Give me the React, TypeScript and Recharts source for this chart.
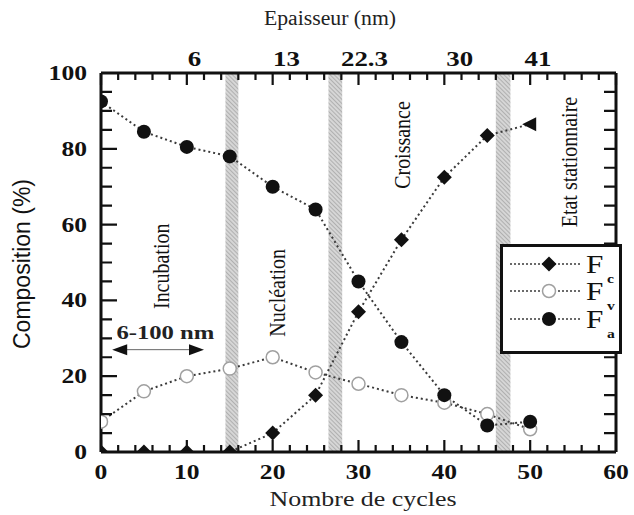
import { ComposedChart, Line, XAxis, YAxis, ReferenceArea, ReferenceLine } from 'recharts'

// ── Données ─────────────────────────────────────────────
const cycles = [0, 5, 10, 15, 20, 25, 30, 35, 40, 45, 50]
const fcValues = [0, 0, 0, 0, 5, 15, 37, 56, 72.5, 83.5, 86.5]
const fvValues = [8, 16, 20, 22, 25, 21, 18, 15, 13, 10, 6]
const faValues = [92.5, 84.5, 80.5, 78, 70, 64, 45, 29, 15, 7, 8]

const seriesSubs = ['c', 'v', 'a']

const xDomain = [0, 60]
const yDomain = [0, 100]
const xTicks = [0, 2, 4, 6, 8, 10, 12, 14, 16, 18, 20, 22, 24, 26, 28, 30, 32, 34, 36, 38, 40, 42, 44, 46, 48, 50, 52, 54, 56, 58, 60]
const xLabels = [0, 10, 20, 30, 40, 50, 60]
const yTicks = [0, 5, 10, 15, 20, 25, 30, 35, 40, 45, 50, 55, 60, 65, 70, 75, 80, 85, 90, 95, 100]
const yLabels = [0, 20, 40, 60, 80, 100]
const topTickLabels = ['6', '13', '22.3', '30', '41']

// zones hachurées (en cycles)
const bands = [
  [14.5, 16],
  [26.5, 28.1],
  [46, 47.7],
]

const phaseNames = ['Incubation', 'Nucléation', 'Croissance', 'Etat stationnaire']

const rows = cycles.map((x, i) => ({ x, fc: fcValues[i], fv: fvValues[i], fa: faValues[i] }))

// ── Mise en page ────────────────────────────────────────
const W = 634
const H = 515
const MARGIN = { top: 33, right: 16, bottom: 23, left: 41 }
const X_AXIS_H = 40
const Y_AXIS_W = 60
const YR_AXIS_W = 2
const PLOT = {
  left: MARGIN.left + Y_AXIS_W,
  right: W - MARGIN.right - YR_AXIS_W,
  top: MARGIN.top + X_AXIS_H,
  bottom: H - MARGIN.bottom - X_AXIS_H,
}

// ── Style ───────────────────────────────────────────────
const FONT = '"Liberation Serif", "Times New Roman", serif'
const NARROW = '"Liberation Sans Narrow", "Liberation Sans", sans-serif'
const INK = '#111'
const LINE = '#3a3a3a'
const STRETCH = 1.28 // l'image d'origine est étirée horizontalement

// position (en cycles) des étiquettes d'épaisseur, légèrement décalées des graduations
const topLabelAt = [10.9, 21.6, 30.7, 41.8, 50.9]

// annotation placement (cycles / %)
const phaseBoxes = [
  { x1: 5, x2: 9, y1: 36, y2: 62 },
  { x1: 18.5, x2: 22.5, y1: 29, y2: 55 },
  { x1: 33, x2: 37, y1: 68, y2: 94 },
  { x1: 52.5, x2: 56.5, y1: 58, y2: 95 },
]

function SText({ x, y, sx = 1, rot = 0, anchor = 'middle', size = 20, weight = 'normal', family = FONT, baseline, children }: any) {
  return (
    <text
      transform={`translate(${x} ${y}) scale(${sx} 1) rotate(${rot})`}
      x={0}
      y={0}
      textAnchor={anchor}
      dominantBaseline={baseline}
      fontSize={size}
      fontWeight={weight}
      fontFamily={family}
      fill={INK}
    >
      {children}
    </text>
  )
}

// ── Étiquettes des axes ─────────────────────────────────
function BottomTick(props: any) {
  const { x, y, payload } = props
  return (
    <SText x={x} y={y + 27} sx={STRETCH} size={20} weight="bold">
      {payload.value}
    </SText>
  )
}

function TopTick(props: any) {
  const { x, y, index } = props
  return (
    <SText x={x} y={y - 7} sx={STRETCH} size={21} weight="bold">
      {topTickLabels[index]}
    </SText>
  )
}

function LeftTick(props: any) {
  const { x, y, payload } = props
  return (
    <SText x={x - 14} y={y + 7} sx={STRETCH} anchor="end" size={20} weight="bold">
      {payload.value}
    </SText>
  )
}

// ── Graduations intérieures (calque au-dessus du graphique) ──
function TickOverlay() {
  const sx = (v: number) => PLOT.left + ((v - xDomain[0]) / (xDomain[1] - xDomain[0])) * (PLOT.right - PLOT.left)
  const sy = (v: number) => PLOT.bottom - ((v - yDomain[0]) / (yDomain[1] - yDomain[0])) * (PLOT.bottom - PLOT.top)
  let d = ''
  xTicks.forEach((v) => {
    const len = v % 10 === 0 ? 12 : 7
    const x = sx(v)
    d += `M${x},${PLOT.bottom} L${x},${PLOT.bottom - len} M${x},${PLOT.top} L${x},${PLOT.top + len} `
  })
  yTicks.forEach((v) => {
    const len = v % 20 === 0 ? 16 : 11
    const y = sy(v)
    d += `M${PLOT.left},${y} L${PLOT.left + len},${y} M${PLOT.right},${y} L${PLOT.right - 12},${y} `
  })
  return (
    <svg width={W} height={H} style={{ position: 'absolute', left: 0, top: 0, pointerEvents: 'none' }}>
      <path d={d} stroke={INK} strokeWidth={2.2} fill="none" />
    </svg>
  )
}

// ── Marqueurs ───────────────────────────────────────────
function DiamondDot(props: any) {
  const { cx, cy, index } = props
  if (cx == null || cy == null) return null
  if (index === cycles.length - 1) {
    return <polygon points={`${cx - 8},${cy} ${cx + 6},${cy - 7} ${cx + 6},${cy + 7}`} fill={INK} />
  }
  return <polygon points={`${cx},${cy - 7.5} ${cx + 7.5},${cy} ${cx},${cy + 7.5} ${cx - 7.5},${cy}`} fill={INK} />
}

function OpenDot(props: any) {
  const { cx, cy } = props
  if (cx == null || cy == null) return null
  return <circle cx={cx} cy={cy} r={6.5} fill="#fff" stroke="#a0a0a0" strokeWidth={1.5} />
}

function FilledDot(props: any) {
  const { cx, cy } = props
  if (cx == null || cy == null) return null
  return <circle cx={cx} cy={cy} r={7} fill={INK} />
}

function ArrowShape(props: any) {
  const { x1, y1, x2, y2 } = props
  return (
    <g>
      <line x1={x1 + 8} y1={y1} x2={x2 - 8} y2={y2} stroke="#666" strokeWidth={1} />
      <polygon points={`${x1},${y1} ${x1 + 15},${y1 - 5.5} ${x1 + 15},${y1 + 5.5}`} fill={INK} />
      <polygon points={`${x2},${y2} ${x2 - 15},${y2 - 5.5} ${x2 - 15},${y2 + 5.5}`} fill={INK} />
    </g>
  )
}

function phaseLabel(name: string) {
  return (p: any) => {
    const vb = p.viewBox
    return (
      <SText x={vb.x + vb.width / 2} y={vb.y + vb.height / 2} sx={1.2} rot={-90} size={20} baseline="central">
        {name}
      </SText>
    )
  }
}

// ── Légende ─────────────────────────────────────────────
function LegendBox() {
  const markers = [
    (cx: number, cy: number) => <polygon points={`${cx},${cy - 7.5} ${cx + 7.5},${cy} ${cx},${cy + 7.5} ${cx - 7.5},${cy}`} fill={INK} />,
    (cx: number, cy: number) => <circle cx={cx} cy={cy} r={6.5} fill="#fff" stroke="#a0a0a0" strokeWidth={1.5} />,
    (cx: number, cy: number) => <circle cx={cx} cy={cy} r={7} fill={INK} />,
  ]
  const rowY = [20, 47, 75]
  return (
    <svg width={122} height={110} style={{ position: 'absolute', left: 500, top: 244 }}>
      <rect x={1.5} y={1.5} width={119} height={107} fill="#fff" stroke={INK} strokeWidth={3} />
      {seriesSubs.map((s, i) => (
        <g key={s}>
          <line x1={10} y1={rowY[i]} x2={80} y2={rowY[i]} stroke={LINE} strokeWidth={1.5} strokeDasharray="2 2" />
          {markers[i](49, rowY[i])}
          <SText x={86} y={rowY[i] + 9} sx={1.2} anchor="start" size={26}>F</SText>
          <SText x={107} y={rowY[i] + 19} sx={1.2} anchor="start" size={13} weight="bold">{s}</SText>
        </g>
      ))}
    </svg>
  )
}

const axisLine = { stroke: INK, strokeWidth: 3 }

export default function App() {
  return (
    <div style={{ position: 'absolute', left: 0, top: 0, width: W, height: H, background: '#fff' }}>
      <ComposedChart width={W} height={H} data={rows} margin={MARGIN}>
        <defs>
          <pattern id="hatch" patternUnits="userSpaceOnUse" width={3} height={3} patternTransform="rotate(-45)">
            <rect width={3} height={3} fill="#d6d6d6" />
            <line x1={0} y1={0} x2={0} y2={3} stroke="#9c9c9c" strokeWidth={1.3} />
          </pattern>
        </defs>

        <XAxis
          xAxisId="b"
          type="number"
          dataKey="x"
          domain={xDomain}
          allowDataOverflow
          ticks={xLabels}
          interval={0}
          height={X_AXIS_H}
          tickSize={0}
          tickMargin={0}
          tickLine={false}
          axisLine={axisLine}
          tick={<BottomTick />}
          label={{
            content: () => (
              <text x={363} y={506} textAnchor="middle" fontSize={20} fontFamily={FONT} fill="#222" textLength={187} lengthAdjust="spacingAndGlyphs">
                Nombre de cycles
              </text>
            ),
          }}
        />
        <XAxis
          xAxisId="t"
          orientation="top"
          type="number"
          dataKey="x"
          domain={xDomain}
          allowDataOverflow
          ticks={topLabelAt}
          interval={0}
          height={X_AXIS_H}
          tickSize={0}
          tickMargin={0}
          tickLine={false}
          axisLine={axisLine}
          tick={<TopTick />}
          label={{
            content: () => (
              <text x={330} y={25} textAnchor="middle" fontSize={20} fontFamily={FONT} fill="#222" textLength={132} lengthAdjust="spacingAndGlyphs">
                Epaisseur (nm)
              </text>
            ),
          }}
        />
        <YAxis
          yAxisId="l"
          type="number"
          domain={yDomain}
          allowDataOverflow
          ticks={yLabels}
          interval={0}
          width={Y_AXIS_W}
          tickSize={0}
          tickMargin={0}
          tickLine={false}
          axisLine={axisLine}
          tick={<LeftTick />}
          label={{
            content: () => (
              <SText x={22} y={264} rot={-90} size={23} family={NARROW} baseline="central">
                Composition (%)
              </SText>
            ),
          }}
        />
        <YAxis
          yAxisId="r"
          orientation="right"
          type="number"
          domain={yDomain}
          allowDataOverflow
          width={YR_AXIS_W}
          tickLine={false}
          axisLine={axisLine}
          tick={false}
        />

        {bands.map(([a, b], i) => (
          <ReferenceArea
            key={`band-${i}`}
            xAxisId="b"
            yAxisId="l"
            x1={a}
            x2={b}
            y1={yDomain[0]}
            y2={yDomain[1]}
            fill="url(#hatch)"
            fillOpacity={1}
            stroke="none"
          />
        ))}

        {phaseNames.map((name, i) => (
          <ReferenceArea
            key={name}
            xAxisId="b"
            yAxisId="l"
            {...phaseBoxes[i]}
            fill="none"
            stroke="none"
            label={{ content: phaseLabel(name) }}
          />
        ))}

        <ReferenceArea
          xAxisId="b"
          yAxisId="l"
          x1={1.5}
          x2={13.5}
          y1={29}
          y2={34}
          fill="none"
          stroke="none"
          label={{
            content: (p: any) => (
              <text
                x={p.viewBox.x + p.viewBox.width / 2}
                y={p.viewBox.y + p.viewBox.height / 2 + 6}
                textAnchor="middle"
                fontSize={18}
                fontWeight="bold"
                fontFamily={FONT}
                fill="#222"
                textLength={98}
                lengthAdjust="spacingAndGlyphs"
              >
                6-100 nm
              </text>
            ),
          }}
        />
        <ReferenceLine
          xAxisId="b"
          yAxisId="l"
          segment={[
            { x: 1.3, y: 27 },
            { x: 12, y: 27 },
          ]}
          shape={<ArrowShape />}
        />

        <Line xAxisId="b" yAxisId="l" dataKey="fv" name="Fv" type="linear" stroke={LINE} strokeWidth={2} strokeDasharray="2 3" dot={<OpenDot />} isAnimationActive={false} />
        <Line xAxisId="b" yAxisId="l" dataKey="fa" name="Fa" type="linear" stroke={LINE} strokeWidth={2} strokeDasharray="2 3" dot={<FilledDot />} isAnimationActive={false} />
        <Line xAxisId="b" yAxisId="l" dataKey="fc" name="Fc" type="linear" stroke={LINE} strokeWidth={2} strokeDasharray="2 3" dot={<DiamondDot />} isAnimationActive={false} />
      </ComposedChart>
      <TickOverlay />
      <LegendBox />
    </div>
  )
}
